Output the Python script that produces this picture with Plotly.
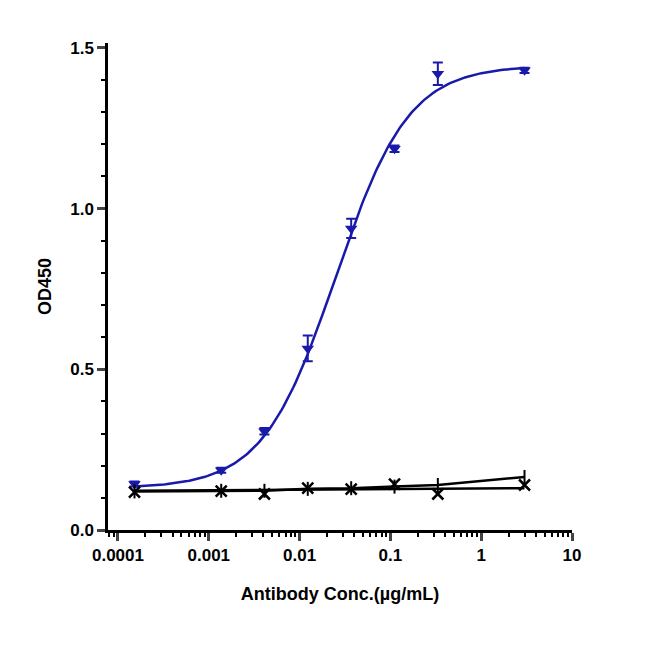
import numpy as np
import plotly.graph_objects as go

conc = [0.000152, 0.00137, 0.0041, 0.0123, 0.037, 0.111, 0.333, 3.0]
od_target = [0.143, 0.186, 0.307, 0.565, 0.938, 1.186, 1.419, 1.430]
err_target = [0.008, 0.008, 0.01, 0.04, 0.03, 0.01, 0.035, 0.008]
od_ctrl_x = [0.118, 0.121, 0.112, 0.130, 0.127, 0.143, 0.112, 0.140]
od_ctrl_plus = [0.120, 0.122, 0.122, 0.128, 0.130, 0.135, 0.140, 0.165]

# 4PL fit parameters (bottom, top, EC50, hill) for the blue curve
bottom, top, ec50, hill = 0.13, 1.445, 0.025, 1.08
xs = np.logspace(np.log10(conc[0]), np.log10(conc[-1]), 200)
fit = bottom + (top - bottom) / (1 + (ec50 / xs) ** hill)

blue = "#1a1aaa"
fig = go.Figure()
fig.add_trace(go.Scatter(x=xs, y=fit, mode="lines", line=dict(color=blue, width=2.5)))
fig.add_trace(go.Scatter(x=conc, y=od_target, mode="markers",
                         marker=dict(symbol="triangle-down", size=11, color=blue),
                         error_y=dict(type="data", array=err_target, color=blue, thickness=2, width=5)))
fig.add_trace(go.Scatter(x=conc, y=od_ctrl_plus, mode="lines+markers",
                         line=dict(color="black", width=2.5),
                         marker=dict(symbol="line-ns", size=10, line=dict(color="black", width=2))))
fig.add_trace(go.Scatter(x=conc, y=od_ctrl_x, mode="markers",
                         marker=dict(symbol="x-thin", size=11, line=dict(color="black", width=2.5))))
fig.add_trace(go.Scatter(x=[conc[0], conc[-1]], y=[0.122, 0.13], mode="lines",
                         line=dict(color="black", width=2.5)))

fig.update_layout(
    width=650, height=650, showlegend=False,
    plot_bgcolor="white", paper_bgcolor="white",
    margin=dict(l=100, r=86, t=35, b=128),
    font=dict(family="Arial, Liberation Sans", color="black", size=17),
)
fig.update_xaxes(type="log", range=[-4.11, 1.0], showline=True, linecolor="black", linewidth=2.5,
                 ticks="outside", ticklen=8, tickwidth=2.5, showgrid=False, zeroline=False,
                 tickvals=[0.0001, 0.001, 0.01, 0.1, 1, 10],
                 ticktext=["<b>0.0001</b>", "<b>0.001</b>", "<b>0.01</b>", "<b>0.1</b>", "<b>1</b>", "<b>10</b>"],
                 tickfont=dict(size=17),
                 minor=dict(ticks="outside", ticklen=4, tickwidth=2, tickcolor="black",
                            dtick="D1", showgrid=False),
                 title=dict(text="<b>Antibody Conc.(µg/mL)</b>", font=dict(size=18), standoff=24))
fig.update_yaxes(range=[0, 1.515], showline=True, linecolor="black", linewidth=2.5,
                 ticks="outside", ticklen=8, tickwidth=2.5, showgrid=False, zeroline=False,
                 tickvals=[0, 0.5, 1.0, 1.5], ticktext=["<b>0.0</b>", "<b>0.5</b>", "<b>1.0</b>", "<b>1.5</b>"],
                 tickfont=dict(size=17),
                 minor=dict(ticks="outside", ticklen=4, tickwidth=2, tickcolor="black",
                            dtick=0.1, showgrid=False),
                 title=dict(text="<b>OD450</b>", font=dict(size=18), standoff=14))
fig.write_html("out.html")
